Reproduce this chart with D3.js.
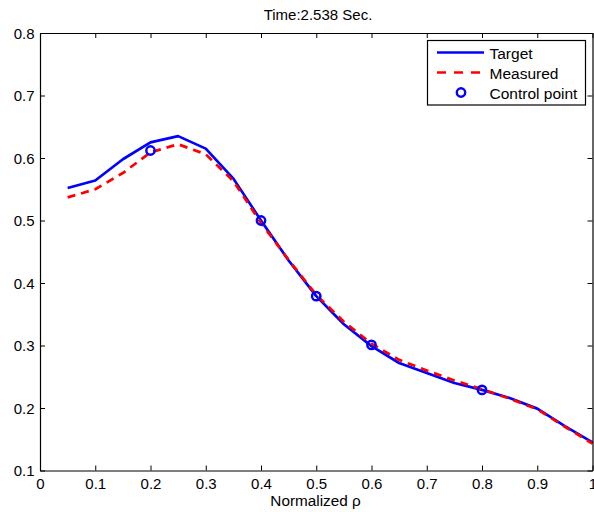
<!DOCTYPE html>
<html>
<head>
<meta charset="utf-8">
<script src="https://cdn.jsdelivr.net/npm/d3@7/dist/d3.min.js"></script>
<style>
  html, body { margin: 0; padding: 0; background: #fff; }
  svg { display: block; }
  text { font-family: "Liberation Sans", Arial, Helvetica, sans-serif; fill: #000; }
</style>
</head>
<body>
<svg id="chart" width="594" height="512"></svg>
<script>
// Normalized radius sample positions
const rho = [0.05, 0.1, 0.15, 0.2, 0.25, 0.3, 0.35, 0.4, 0.45, 0.5,
             0.55, 0.6, 0.65, 0.7, 0.75, 0.8, 0.85, 0.9, 0.95, 1.0];
// Target profile
const target = [0.552, 0.564, 0.598, 0.625, 0.635, 0.615, 0.567, 0.500, 0.436, 0.379,
                0.334, 0.299, 0.272, 0.256, 0.240, 0.229, 0.216, 0.199, 0.171, 0.145];
// Measured profile
const measured = [0.537, 0.550, 0.576, 0.609, 0.622, 0.606, 0.563, 0.496, 0.437, 0.381,
                  0.338, 0.303, 0.277, 0.260, 0.244, 0.230, 0.215, 0.198, 0.170, 0.143];
// Control points
const ctrlRho = [0.2, 0.4, 0.5, 0.6, 0.8];
const ctrlVal = [0.612, 0.500, 0.379, 0.301, 0.229];

const xTicks = [0, 0.1, 0.2, 0.3, 0.4, 0.5, 0.6, 0.7, 0.8, 0.9, 1];
const xTickLabels = ["0", "0.1", "0.2", "0.3", "0.4", "0.5", "0.6", "0.7", "0.8", "0.9", "1"];
const yTicks = [0.1, 0.2, 0.3, 0.4, 0.5, 0.6, 0.7, 0.8];
const yTickLabels = ["0.1", "0.2", "0.3", "0.4", "0.5", "0.6", "0.7", "0.8"];

const titleText = "Time:2.538 Sec.";
const xLabelText = "Normalized \u03C1";
const legendLabels = ["Target", "Measured", "Control point"];

const svg = d3.select("#chart");
const plotLeft = 40, plotRight = 592.5, plotTop = 33, plotBottom = 470.5;

const x = d3.scaleLinear().domain([0, 1]).range([plotLeft, plotRight]);
const y = d3.scaleLinear().domain([0.1, 0.8]).range([plotBottom, plotTop]);

const blue = "#0000ff", red = "#ff0000";

// Data lines
const line = d3.line().x(d => x(d[0])).y(d => y(d[1]));
const plot = svg.append("g");

plot.append("path")
  .datum(rho.map((r, i) => [r, target[i]]))
  .attr("d", line)
  .attr("fill", "none").attr("stroke", blue).attr("stroke-width", 2.7)
  .attr("stroke-linejoin", "round");

plot.append("path")
  .datum(rho.map((r, i) => [r, measured[i]]))
  .attr("d", line)
  .attr("fill", "none").attr("stroke", red).attr("stroke-width", 2.7)
  .attr("stroke-dasharray", "8,6");

plot.selectAll("circle.ctrl")
  .data(ctrlRho.map((r, i) => [r, ctrlVal[i]]))
  .join("circle")
  .attr("class", "ctrl")
  .attr("cx", d => x(d[0])).attr("cy", d => y(d[1]))
  .attr("r", 4.2)
  .attr("fill", "none").attr("stroke", blue).attr("stroke-width", 2.4);

// Axes (box with inward ticks on all sides)
const tickLen = 5;

const axBottom = d3.axisBottom(x).tickValues(xTicks).tickSizeInner(-tickLen).tickSizeOuter(0)
  .tickFormat((d, i) => xTickLabels[i]);
const axTop = d3.axisTop(x).tickValues(xTicks).tickSizeInner(-tickLen).tickSizeOuter(0).tickFormat("");
const axLeft = d3.axisLeft(y).tickValues(yTicks).tickSizeInner(-tickLen).tickSizeOuter(0)
  .tickFormat((d, i) => yTickLabels[i]);
const axRight = d3.axisRight(y).tickValues(yTicks).tickSizeInner(-tickLen).tickSizeOuter(0).tickFormat("");

function styleAxis(g) {
  g.select(".domain").attr("stroke", "#000").attr("stroke-width", 1.2);
  g.selectAll(".tick line").attr("stroke", "#000").attr("stroke-width", 1);
  g.selectAll(".tick text").attr("font-size", 15).attr("font-family", null).attr("fill", "#000");
}

const gB = svg.append("g").attr("transform", `translate(0,${plotBottom})`).call(axBottom).call(styleAxis);
gB.selectAll(".tick text").attr("y", 18.5).attr("dy", null);
const gT = svg.append("g").attr("transform", `translate(0,${plotTop})`).call(axTop).call(styleAxis);
const gL = svg.append("g").attr("transform", `translate(${plotLeft},0)`).call(axLeft).call(styleAxis);
gL.selectAll(".tick text").attr("x", -5.5).attr("dy", "0.35em");
const gR = svg.append("g").attr("transform", `translate(${plotRight},0)`).call(axRight).call(styleAxis);

// Title and axis label
svg.append("text").attr("x", 318).attr("y", 20).attr("text-anchor", "middle")
  .attr("font-size", 15).text(titleText);
svg.append("text").attr("x", 315.5).attr("y", 506).attr("text-anchor", "middle")
  .attr("font-size", 15.3).text(xLabelText);

// Legend
const lg = svg.append("g");
lg.append("rect").attr("x", 427.5).attr("y", 40.5).attr("width", 158).attr("height", 64.5)
  .attr("fill", "#fff").attr("stroke", "#000").attr("stroke-width", 1.2);
const rowY = [52.5, 72.5, 92.5];
lg.append("line").attr("x1", 437).attr("x2", 484).attr("y1", rowY[0]).attr("y2", rowY[0])
  .attr("stroke", blue).attr("stroke-width", 2.7);
lg.append("line").attr("x1", 437).attr("x2", 484).attr("y1", rowY[1]).attr("y2", rowY[1])
  .attr("stroke", red).attr("stroke-width", 2.7).attr("stroke-dasharray", "9,8");
lg.append("circle").attr("cx", 461).attr("cy", rowY[2]).attr("r", 4.2)
  .attr("fill", "none").attr("stroke", blue).attr("stroke-width", 2.4);
lg.selectAll("text.lab").data(legendLabels).join("text").attr("class", "lab")
  .attr("x", 489.5).attr("y", (d, i) => rowY[i] + 6.5)
  .attr("font-size", 15.5).text(d => d);
</script>
</body>
</html>
